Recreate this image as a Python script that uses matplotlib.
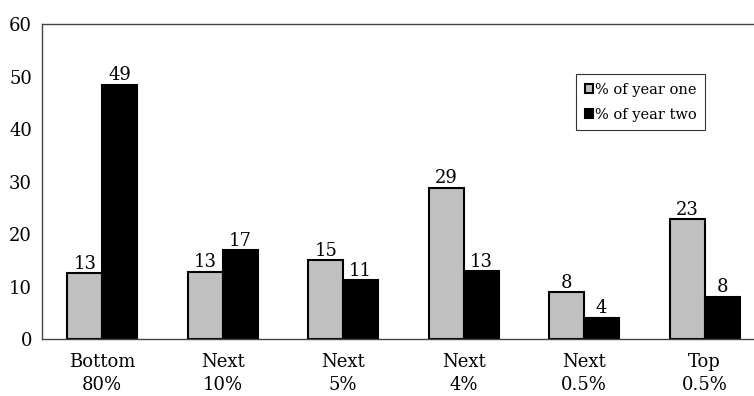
import matplotlib
matplotlib.use("Agg")
import matplotlib.pyplot as plt
import numpy as np

categories = ["Bottom\n80%", "Next\n10%", "Next\n5%", "Next\n4%", "Next\n0.5%", "Top\n0.5%"]
year_one = [12.5, 12.8, 15.0, 28.8, 8.9, 22.8]
year_two = [48.5, 16.9, 11.2, 12.9, 4.0, 8.0]
year_one_labels = ["13", "13", "15", "29", "8", "23"]
year_two_labels = ["49", "17", "11", "13", "4", "8"]
yticks = [0, 10, 20, 30, 40, 50, 60]

plt.rcParams['font.family'] = ['DejaVu Serif']

fig = plt.figure(figsize=(7.54, 3.96), dpi=100)
ax = fig.add_axes([0.0553, 0.144, 0.9447, 0.7946])

x = np.arange(len(categories))
w = 0.29
b1 = ax.bar(x - w/2, year_one, w, color="#c0c0c0", edgecolor="black", linewidth=1.5, label="% of year one")
b2 = ax.bar(x + w/2, year_two, w, color="black", edgecolor="black", linewidth=1.5, label="% of year two")

for rect, lab in zip(b1, year_one_labels):
    ax.text(rect.get_x() + rect.get_width()/2, rect.get_height() + 0.1, lab,
            ha="center", va="bottom", fontsize=13)
for rect, lab in zip(b2, year_two_labels):
    ax.text(rect.get_x() + rect.get_width()/2, rect.get_height() + 0.1, lab,
            ha="center", va="bottom", fontsize=13)

ax.set_xlim(-0.503, 5.41)
ax.set_ylim(0, 60)
ax.set_yticks(yticks)
ax.set_yticklabels([str(t) for t in yticks], fontsize=13)
ax.set_xticks(x)
ax.set_xticklabels(categories, fontsize=13, linespacing=1.4)
ax.tick_params(axis="both", length=0)
ax.tick_params(axis="y", pad=7)
ax.tick_params(axis="x", pad=10)

for s in ["left", "top", "bottom"]:
    ax.spines[s].set_color("#444444")
    ax.spines[s].set_linewidth(1.0)
ax.spines["right"].set_visible(False)

leg = ax.legend(loc="upper left", bbox_to_anchor=(0.750, 0.842), fontsize=10.5,
                frameon=True, fancybox=False, edgecolor="black",
                handlelength=0.6, handleheight=0.6, handletextpad=0.1,
                borderpad=0.6, labelspacing=0.75, borderaxespad=0)
leg.get_frame().set_linewidth(0.8)

fig.savefig("out.png", dpi=100)
